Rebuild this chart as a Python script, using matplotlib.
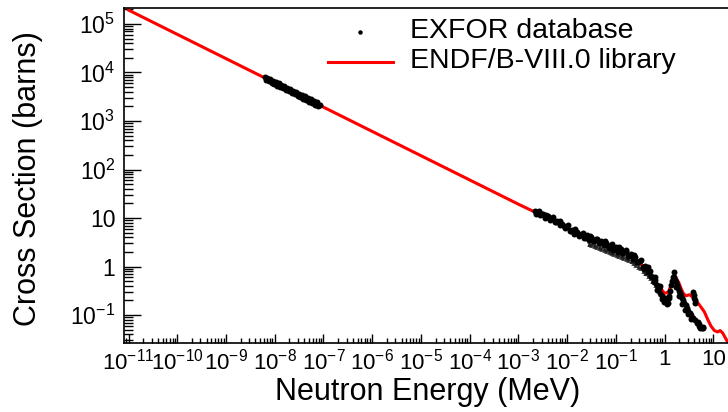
import numpy as np
import matplotlib
matplotlib.use("Agg")
import matplotlib.pyplot as plt
from matplotlib.ticker import LogLocator, FixedLocator, FuncFormatter, NullFormatter
from matplotlib.lines import Line2D

plt.rcParams['font.family'] = ['Liberation Sans', 'DejaVu Sans']
plt.rcParams['mathtext.fontset'] = 'custom'
plt.rcParams['mathtext.rm'] = 'Liberation Sans'
plt.rcParams['mathtext.it'] = 'Liberation Sans:italic'
plt.rcParams['mathtext.bf'] = 'Liberation Sans:bold'

# ---------------- data ----------------
# ENDF/B-VIII.0 evaluated curve (MeV, barns)
endf_energy = [1e-11, 1e-3, 3e-3, 1e-2, 3e-2, 0.1, 0.2, 0.45, 0.7, 1.0, 1.2, 1.4,
               1.55, 1.66, 1.95, 2.19, 2.45, 2.75, 3.24, 3.8, 4.47, 5.0, 5.62, 6.6,
               7.6, 8.9, 10.5, 12.3, 13.8, 15.5, 18.2, 20.0]
endf_xs = [1.93e5, 19.3, 11.4, 6.2, 3.9, 2.4, 1.75, 0.83, 0.45, 0.28, 0.3, 0.45,
           0.58, 0.62, 0.47, 0.35, 0.275, 0.25, 0.263, 0.234, 0.2, 0.17, 0.145, 0.115,
           0.083, 0.06, 0.048, 0.045, 0.048, 0.043, 0.032, 0.027]

# EXFOR thermal measurements
exfor_th_energy = [6.3e-9, 6.7e-9, 7.1e-9, 7.6e-9, 8.1e-9, 8.6e-9, 9.2e-9, 9.8e-9,
                   1.05e-8, 1.12e-8, 1.2e-8, 1.28e-8, 1.37e-8, 1.47e-8, 1.57e-8, 1.68e-8,
                   1.8e-8, 1.93e-8, 2.07e-8, 2.22e-8, 2.38e-8, 2.55e-8, 2.74e-8, 2.94e-8,
                   3.15e-8, 3.38e-8, 3.62e-8, 3.88e-8, 4.16e-8, 4.46e-8, 4.78e-8, 5.13e-8,
                   5.5e-8, 5.9e-8, 6.33e-8, 6.79e-8, 7.28e-8, 7.8e-8, 8.4e-8]
exfor_th_xs = [8230, 6940, 7760, 6520, 7260, 6130, 6810, 5740,
               6380, 5370, 5970, 5020, 5580, 4690, 5220, 4380,
               4870, 4090, 4540, 3810, 4240, 3560, 3950, 3310,
               3680, 3090, 3440, 2880, 3200, 2690, 2990, 2510,
               2790, 2340, 2600, 2180, 2420, 2030, 2110]

# EXFOR fast-region measurements
exfor_fast_energy = [0.00219, 0.00234, 0.00251, 0.00282, 0.00316, 0.00355, 0.00398, 0.00447,
                     0.00501, 0.00562, 0.00631, 0.00708, 0.00794, 0.00891, 0.0100, 0.0112,
                     0.0126, 0.0141, 0.0158, 0.0178, 0.0200, 0.0224, 0.0251, 0.0282,
                     0.0316, 0.0355, 0.0398, 0.0447, 0.0501, 0.0562, 0.0631, 0.0708,
                     0.0794, 0.0891, 0.100, 0.112, 0.126, 0.141, 0.158, 0.178,
                     0.200, 0.224, 0.251, 0.282, 0.316, 0.355, 0.398, 0.447,
                     0.501, 0.562, 0.631, 0.708, 0.794, 0.891, 1.0, 1.047,
                     1.096, 1.148, 1.202, 1.259, 1.318, 1.38, 1.445, 1.514,
                     1.585, 1.585, 1.66, 1.74, 1.82, 1.91, 2.0, 2.09,
                     2.19, 2.29, 2.4, 2.51, 2.69, 2.88, 3.09, 3.31,
                     3.55, 3.8, 4.17, 4.57, 5.01, 5.37, 5.75, 6.17,
                     3.89, 3.98, 4.07, 4.17, 4.27,
                     1.74, 2.0, 2.29, 2.63, 3.02, 3.47, 4.9, 5.2,
                     0.6, 0.7, 0.8, 0.9, 0.95, 1.1, 1.25,
                     0.00240, 0.00300, 0.00420, 0.00600, 0.0085, 0.0120, 0.0170, 0.0240,
                     0.0340, 0.0480, 0.0680, 0.0960, 0.135, 0.19, 0.27, 0.38, 0.53, 0.75,
                     0.0026, 0.0037, 0.0052, 0.0073, 0.0105, 0.0148, 0.021, 0.030,
                     0.042, 0.059, 0.083, 0.118, 0.165, 0.235, 0.33, 0.46, 0.65, 5.6, 6.0]
exfor_fast_xs = [13.8, 12.0, 13.5, 11.5, 12.3, 10.2, 10.8, 9.1,
                 10.0, 8.3, 8.7, 7.1, 7.6, 6.1, 6.5, 5.3,
                 5.75, 4.7, 5.1, 4.27, 4.8, 3.9, 4.4, 3.55,
                 4.0, 3.3, 3.7, 3.0, 3.4, 2.75, 3.05, 2.45,
                 2.75, 2.24, 2.5, 2.04, 2.3, 1.86, 2.1, 1.66,
                 1.8, 1.41, 1.55, 1.22, 1.32, 1.0, 1.05, 0.79,
                 0.83, 0.62, 0.60, 0.41, 0.39, 0.245, 0.224, 0.182,
                 0.2, 0.178, 0.224, 0.25, 0.32, 0.42, 0.5, 0.6,
                 0.79, 0.6, 0.52, 0.47, 0.42, 0.36, 0.32, 0.28,
                 0.25, 0.22, 0.2, 0.178, 0.158, 0.138, 0.123, 0.11,
                 0.1, 0.089, 0.079, 0.069, 0.06, 0.054, 0.055, 0.057,
                 0.30, 0.26, 0.23, 0.2, 0.175,
                 0.38, 0.25, 0.17, 0.13, 0.105, 0.085, 0.072, 0.065,
                 0.48, 0.33, 0.28, 0.21, 0.19, 0.17, 0.22,
                 12.6, 11.9, 9.9, 8.4, 6.9, 5.5, 4.6, 3.9,
                 3.4, 3.05, 2.65, 2.3, 1.95, 1.62, 1.25, 0.9, 0.64, 0.36,
                 14.2, 11.7, 10.3, 8.6, 7.2, 6.0, 5.0, 4.3,
                 3.75, 3.3, 2.9, 2.5, 2.15, 1.72, 1.38, 0.97, 0.52, 0.058, 0.053]

# EXFOR second fast-region set (drawn with error bars)
exfor_low_energy = [0.0282, 0.0316, 0.0355, 0.0398, 0.0447, 0.0501, 0.0562, 0.0631,
                    0.0708, 0.0794, 0.0891, 0.100, 0.112, 0.126, 0.141, 0.158,
                    0.178, 0.200, 0.224, 0.251, 0.282, 0.316, 0.355, 0.398,
                    0.447, 0.501, 0.562, 0.631, 0.708, 0.794, 0.891]
exfor_low_xs = [2.85, 2.75, 2.65, 2.52, 2.42, 2.32, 2.22, 2.1,
                2.0, 1.9, 1.82, 1.73, 1.65, 1.58, 1.52, 1.45,
                1.36, 1.26, 1.17, 1.08, 0.99, 0.92, 0.82, 0.72,
                0.64, 0.57, 0.49, 0.41, 0.34, 0.27, 0.22]

x_range = (8.2e-12, 20.0)
y_range = (0.027, 2.1e5)
x_major_ticks = [1e-11, 1e-10, 1e-9, 1e-8, 1e-7, 1e-6, 1e-5, 1e-4, 1e-3, 1e-2, 1e-1, 1.0, 10.0]
y_major_ticks = [1e-1, 1.0, 10.0, 1e2, 1e3, 1e4, 1e5]

# ---------------- figure ----------------
W, H = 728, 412
fig = plt.figure(figsize=(W / 100, H / 100), dpi=100)
left, right, top, bottom = 124.3, 728.0, 8.3, 342.7
ax = fig.add_axes([left / W, 1 - bottom / H, (right - left) / W, (bottom - top) / H])

ax.plot(endf_energy, endf_xs, color='#ff0000', lw=2.2, zorder=2, solid_joinstyle='round')

low = np.array(exfor_low_xs)
ax.errorbar(exfor_low_energy, exfor_low_xs, yerr=[low * 0.08, low * 0.08], fmt='o', ms=1.4,
            color='#222222', ecolor='#333333', elinewidth=0.6, capsize=1.4, capthick=0.6, zorder=3)
ax.plot(exfor_th_energy, exfor_th_xs, 'o', color='black', ms=4.3, mew=0, zorder=4)
ax.plot(exfor_fast_energy, exfor_fast_xs, 'o', color='black', ms=4.3, mew=0, zorder=4)

ax.set_xscale('log')
ax.set_yscale('log')
ax.set_xlim(*x_range)
ax.set_ylim(*y_range)


def fmt(v, pos):
    e = int(round(np.log10(v)))
    if e == 0:
        return '1'
    if e == 1:
        return '10'
    return r'$10^{%d}$' % e


ax.xaxis.set_major_locator(FixedLocator(x_major_ticks))
ax.xaxis.set_minor_locator(LogLocator(base=10, subs=np.arange(2, 10), numticks=200))
ax.yaxis.set_major_locator(FixedLocator(y_major_ticks))
ax.yaxis.set_minor_locator(LogLocator(base=10, subs=np.arange(2, 10), numticks=200))
ax.xaxis.set_major_formatter(FuncFormatter(fmt))
ax.yaxis.set_major_formatter(FuncFormatter(fmt))
ax.xaxis.set_minor_formatter(NullFormatter())
ax.yaxis.set_minor_formatter(NullFormatter())

ax.tick_params(axis='x', which='major', direction='in', length=6.7, width=1, labelsize=16, pad=4.5)
ax.tick_params(axis='x', which='minor', direction='in', length=3.4, width=1)
ax.tick_params(axis='y', which='major', direction='in', length=12.5, width=1, labelsize=16.5, pad=6.5)
ax.tick_params(axis='y', which='minor', direction='in', length=6.5, width=1)
ax.tick_params(top=False, right=False, which='both')

for s in ['left', 'bottom', 'top']:
    ax.spines[s].set_linewidth(1.2)
ax.spines['right'].set_visible(False)

fig.text(427.5 / W, 1 - 392 / H, 'Neutron Energy (MeV)', ha='center', va='center', fontsize=22)
fig.text(28.5 / W, 1 - 179 / H, 'Cross Section (barns)', ha='center', va='center',
         rotation=90, fontsize=22)

# legend (no frame)
fig.add_artist(Line2D([360 / W], [1 - 32.3 / H], marker='o', ms=2.2, color='black', lw=0,
                      transform=fig.transFigure))
fig.add_artist(Line2D([328 / W, 393 / W], [1 - 61.7 / H, 1 - 61.7 / H], color='#ff0000', lw=2.2,
                      transform=fig.transFigure))
fig.text(410 / W, 1 - 38.3 / H, 'EXFOR database', ha='left', va='baseline', fontsize=20.5)
fig.text(410 / W, 1 - 68.3 / H, 'ENDF/B-VIII.0 library', ha='left', va='baseline', fontsize=20.5)

fig.savefig('out.png', dpi=100)
